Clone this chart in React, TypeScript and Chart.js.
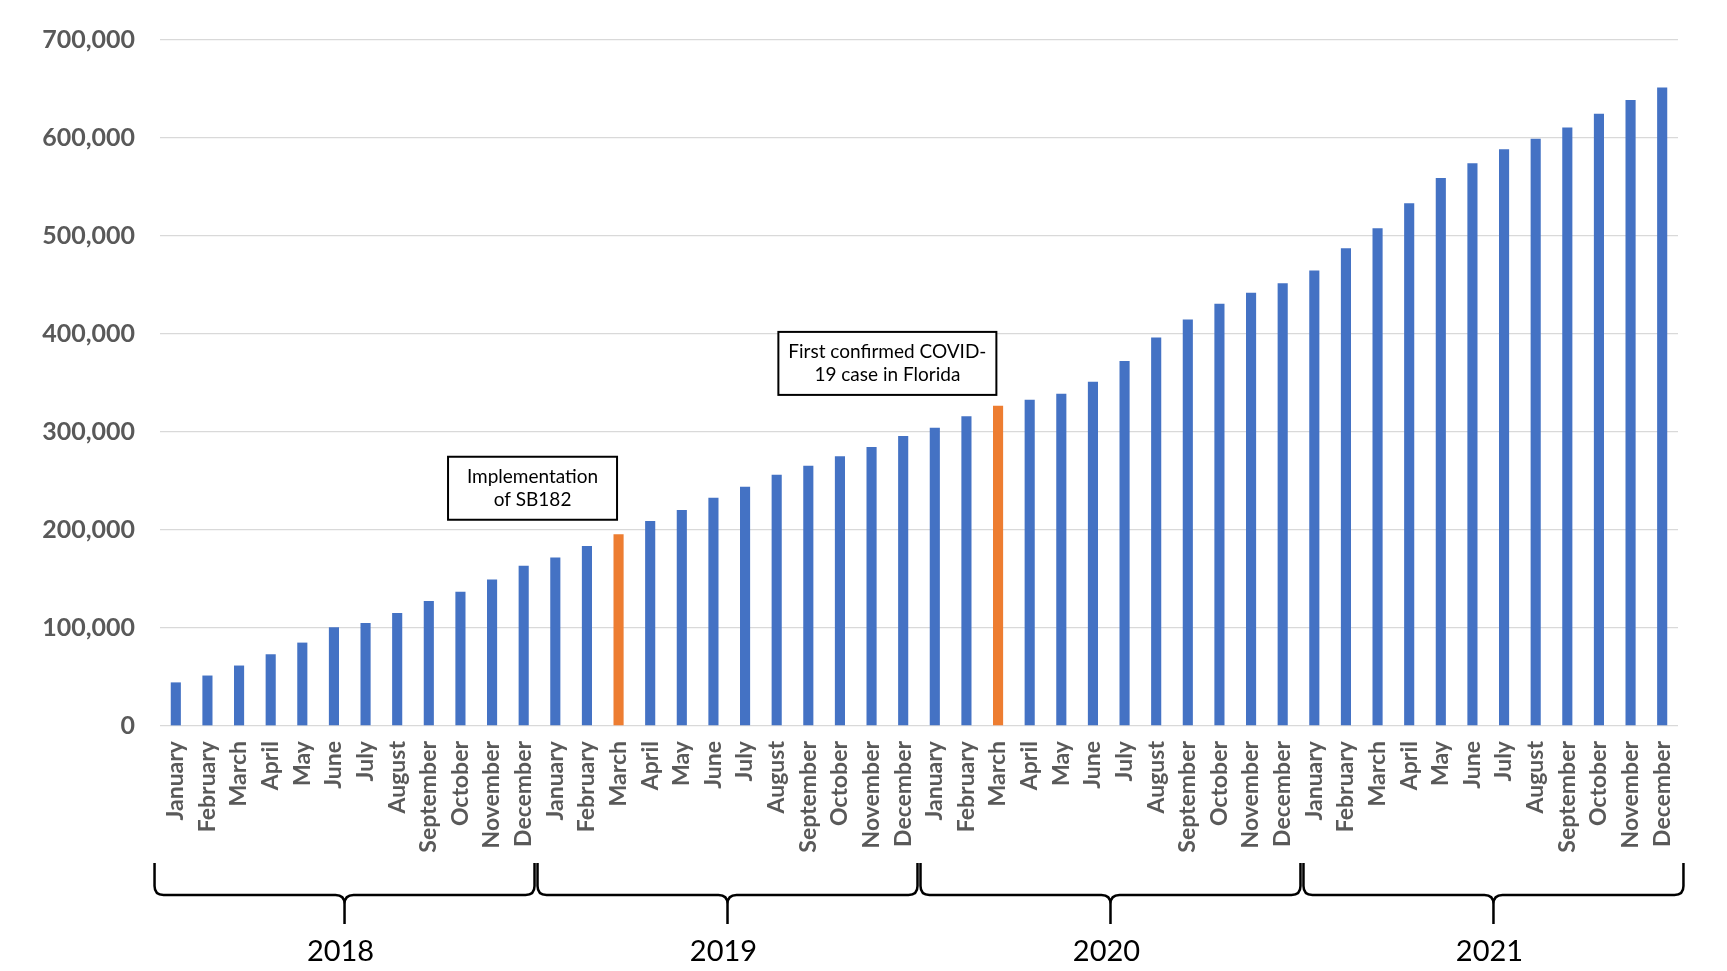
import React, { useEffect, useRef } from 'react';
import { Chart, registerables } from 'chart.js';

Chart.register(...registerables);

const years = ['2018', '2019', '2020', '2021'];
const months = [
  'January', 'February', 'March', 'April', 'May', 'June',
  'July', 'August', 'September', 'October', 'November', 'December',
];

const values2018 = [44500, 51500, 61700, 73200, 85100, 100700, 105100, 115300, 127500, 137000, 149500, 163400];
const values2019 = [171900, 183700, 195700, 209300, 220500, 233000, 244200, 256300, 265500, 275300, 284800, 296000];
const values2020 = [304400, 316000, 326800, 332900, 339000, 351200, 372500, 396400, 414900, 430900, 442100, 451900];
const values2021 = [464800, 487600, 508000, 533400, 559200, 574200, 588400, 599300, 610800, 624700, 638700, 651500];

const highlighted = ['2019 March', '2020 March'];

const yMin = 0;
const yMax = 700000;
const yStep = 100000;

const annotationTexts = [
  ['Implementation', 'of SB182'],
  ['First confirmed COVID-', '19 case in Florida'],
];
// anchor (category index, value) of each note's centre
const annotationX = [11.28, 22.5];
const annotationY = [242600, 370000];

const BLUE = '#4472C4';
const ORANGE = '#ED7D31';
const LABEL_GREY = '#595959';
const FONT = 'Lato, "Open Sans", sans-serif';

const categories = years.flatMap(() => months.map((m) => m));
const categoryKeys = years.flatMap((yr) => months.map((m) => `${yr} ${m}`));
const allValues = [...values2018, ...values2019, ...values2020, ...values2021];
const barColors = categoryKeys.map((k) => (highlighted.includes(k) ? ORANGE : BLUE));

const decorPlugin = {
  id: 'decor',
  afterDraw(chart: any) {
    const { ctx, chartArea } = chart;
    const x = chart.scales.x;
    const y = chart.scales.y;
    const base = chartArea.bottom;
    ctx.save();

    // notes
    annotationTexts.forEach((lines, i) => {
      const cx = x.getPixelForValue(annotationX[i]);
      const cy = y.getPixelForValue(annotationY[i]);
      const w = i === 0 ? 169 : 218;
      const h = 63;
      ctx.fillStyle = '#ffffff';
      ctx.fillRect(cx - w / 2, cy - h / 2, w, h);
      ctx.strokeStyle = '#000000';
      ctx.lineWidth = 2;
      ctx.strokeRect(cx - w / 2, cy - h / 2, w, h);
      ctx.fillStyle = '#000000';
      ctx.font = `19px ${FONT}`;
      ctx.textAlign = 'center';
      ctx.textBaseline = 'middle';
      ctx.fillText(lines[0], cx, cy - 11.5);
      ctx.fillText(lines[1], cx, cy + 11.5);
    });

    // year braces
    const top = base + 137;
    const hy = base + 169;
    const tip = base + 198;
    const r = 9;
    const rowLeft = x.getPixelForValue(-0.72);
    const rowRight = x.getPixelForValue(categories.length - 1 + 0.72);
    const span = (rowRight - rowLeft) / years.length;
    ctx.strokeStyle = '#000000';
    ctx.lineWidth = 2.5;
    years.forEach((yr, k) => {
      const xl = rowLeft + k * span + 1.5;
      const xr = rowLeft + (k + 1) * span - 1.5;
      const xm = (xl + xr) / 2;
      ctx.beginPath();
      ctx.moveTo(xl, top);
      ctx.lineTo(xl, hy - r);
      ctx.quadraticCurveTo(xl, hy, xl + r, hy);
      ctx.lineTo(xm - r, hy);
      ctx.quadraticCurveTo(xm, hy, xm, hy + r);
      ctx.lineTo(xm, tip);
      ctx.moveTo(xm, hy + r);
      ctx.quadraticCurveTo(xm, hy, xm + r, hy);
      ctx.lineTo(xr - r, hy);
      ctx.quadraticCurveTo(xr, hy, xr, hy - r);
      ctx.lineTo(xr, top);
      ctx.stroke();

      ctx.fillStyle = '#000000';
      ctx.font = `29px ${FONT}`;
      ctx.textAlign = 'center';
      ctx.textBaseline = 'middle';
      ctx.fillText(yr, xm - 4, base + 226);
    });
    ctx.restore();
  },
};

export default function App() {
  const canvasRef = useRef<HTMLCanvasElement | null>(null);

  useEffect(() => {
    const canvas = canvasRef.current;
    if (!canvas) return;
    const chart = new Chart(canvas, {
      type: 'bar',
      data: {
        labels: categories,
        datasets: [
          {
            data: allValues,
            backgroundColor: barColors,
            borderWidth: 0,
            categoryPercentage: 1,
            barPercentage: 0.32,
          },
        ],
      },
      options: {
        responsive: false,
        animation: false,
        layout: { padding: { top: 34, right: 49, bottom: 0, left: 0 } },
        plugins: {
          legend: { display: false },
          tooltip: { enabled: false },
        },
        scales: {
          x: {
            grid: { display: false, drawTicks: false },
            border: { display: false },
            ticks: {
              autoSkip: false,
              minRotation: 90,
              maxRotation: 90,
              padding: 15,
              color: LABEL_GREY,
              font: { family: FONT, size: 23, weight: 'bold' },
            },
            afterFit(scale: any) {
              scale.height = 245;
            },
          },
          y: {
            min: yMin,
            max: yMax,
            grid: { color: '#d9d9d9', lineWidth: 1.3, drawTicks: false },
            border: { display: false },
            ticks: {
              stepSize: yStep,
              padding: 25,
              color: LABEL_GREY,
              font: { family: FONT, size: 25, weight: 'bold' },
              callback: (v: any) => Number(v).toLocaleString('en-US'),
            },
            afterFit(scale: any) {
              scale.width = 160;
            },
          },
        },
      },
      plugins: [decorPlugin],
    });
    return () => chart.destroy();
  }, []);

  return (
    <div style={{ position: 'absolute', left: 0, top: 0, width: 1727, height: 971, background: '#ffffff' }}>
      <canvas ref={canvasRef} width={1727} height={971} style={{ width: 1727, height: 971 }} />
    </div>
  );
}
